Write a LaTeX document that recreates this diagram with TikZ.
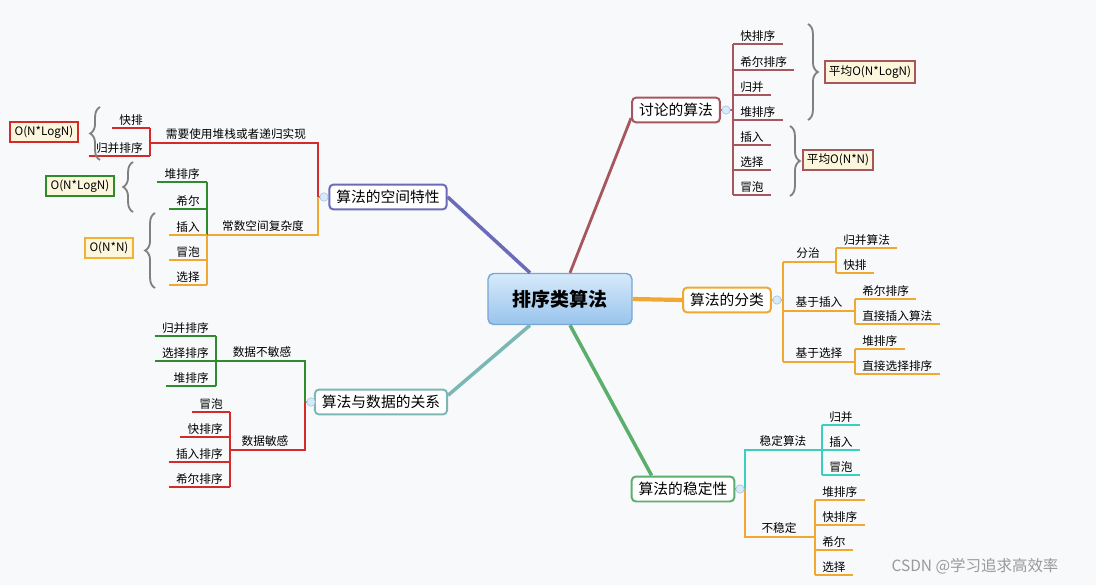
\documentclass[tikz,border=0pt]{standalone}
\usepackage{fontspec}
\setmainfont{Noto Sans CJK SC}
\usetikzlibrary{calc,positioning,decorations.pathreplacing}

\definecolor{bg}{HTML}{F8F9FB}
\definecolor{dred}{HTML}{A8565E}
\definecolor{org}{HTML}{F0A830}
\definecolor{grn}{HTML}{5BAE6B}
\definecolor{teal}{HTML}{7BB8B5}
\definecolor{purp}{HTML}{6B6BB8}
\definecolor{rd}{HTML}{D42A2A}
\definecolor{lgrn}{HTML}{2E8B2E}
\definecolor{yel}{HTML}{F2B233}
\definecolor{cyn}{HTML}{3CCFC0}
\definecolor{boxfill}{HTML}{FBF6DC}
\definecolor{roottop}{HTML}{D6EAFB}
\definecolor{rootbot}{HTML}{98C4EC}
\definecolor{rootline}{HTML}{7AA6D2}

\tikzset{
  topic/.style={draw=#1, line width=1.4pt, rounded corners=3pt, fill=white,
    inner xsep=5pt, inner ysep=4pt, font=\fontsize{10.5}{12}\selectfont},
  leaf/.style={inner xsep=5pt, inner ysep=1.5pt, font=\fontsize{8.3}{9}\selectfont},
  mid/.style={inner sep=2pt, anchor=south, font=\fontsize{8.3}{9}\selectfont},
  tag/.style={draw=#1, line width=1.4pt, fill=boxfill, inner sep=3pt,
    font=\fontsize{8.3}{9}\selectfont},
  br/.style={decorate, decoration={brace, amplitude=7pt}, draw=gray, line width=1.3pt},
  fold/.style={circle, draw=rootline!70, fill=roottop, inner sep=0pt, minimum size=6pt},
  stem/.style={line width=1.3pt},
}

\begin{document}
\begin{tikzpicture}[x=0.025cm, y=-0.025cm]
\useasboundingbox[fill=bg] (0,0) rectangle (1096,585);

% root and main topics
\node[draw=rootline, line width=1pt, rounded corners=4pt, top color=roottop, bottom color=rootbot,
  minimum width=144*0.025cm, minimum height=51*0.025cm,
  font=\fontsize{13.5}{15}\bfseries\selectfont] (root) at (560,299) {排序类算法};
\node[topic=dred] (dis) at (676,110) {讨论的算法};
\node[topic=org] (cls) at (727,300) {算法的分类};
\node[topic=grn] (stab) at (683,489) {算法的稳定性};
\node[topic=teal] (dat) at (381,402) {算法与数据的关系};
\node[topic=purp] (spa) at (388,197) {算法的空间特性};

\draw[dred, line width=2pt] (root.north) ++(10,0) -- ($(dis.west)!0.6!(dis.south west)$);
\draw[org, line width=3pt] (root.east) -- (cls.west);
\draw[grn, line width=2.5pt] (root.south) ++(10,0) -- ($(stab.north west)!0.2!(stab.north east)$);
\draw[teal, line width=2.5pt] (root.south) ++(-30,0) -- ($(dat.east)!0.5!(dat.north east)$);
\draw[purp, line width=2.5pt] (root.north) ++(-30,0) -- (spa.east);

% discussed algorithms
\coordinate (dt) at (733,110);
\draw[dred, stem] (dis.east) -- (dt);
\draw[dred, stem] (733,44) -- (733,195);
\foreach \n/\t/\y in {a/快排序/44, b/希尔排序/70, c/归并/95, d/堆排序/120, e/插入/145, f/选择/170, g/冒泡/195}{
  \node[leaf, anchor=south west] (d\n) at (733,\y) {\t};
  \draw[dred, stem] (d\n.south west) -- (d\n.south east);
}
\node[tag=dred] (avg1) at (870,72) {平均O(N*LogN)};
\node[tag=dred] (avg2) at (838,160) {平均O(N*N)};
\draw[br] (808,24) -- (808,120);
\draw[br] (790,126) -- (790,196);
\node[fold] at (726,110) {};

% classification
\coordinate (ct) at (783,300);
\draw[org, stem] (cls.east) -- (ct);
\draw[org, stem] (783,262) -- (783,362);
\node[mid] (fz) at (808,262) {分治};
\node[mid] (jc) at (819,311) {基于插入};
\node[mid] (jx) at (819,362) {基于选择};
\draw[org, stem] (783,262) -- (836,262);
\draw[org, stem] (783,311) -- (855,311);
\draw[org, stem] (783,362) -- (855,362);
\draw[org, stem] (836,248) -- (836,273);
\draw[org, stem] (855,299) -- (855,324);
\draw[org, stem] (855,349) -- (855,374);
\foreach \n/\t/\x/\y in {a/归并算法/836/248, b/快排/836/273, c/希尔排序/855/299,
    d/直接插入算法/855/324, e/堆排序/855/349, f/直接选择排序/855/374}{
  \node[leaf, anchor=south west] (c\n) at (\x,\y) {\t};
  \draw[org, stem] (c\n.south west) -- (c\n.south east);
}
\node[fold] at (777,300) {};

% stability
\draw[grn, stem] (stab.east) -- (745,489);
\draw[cyn, stem] (745,489) -- (745,450) -- (822,450);
\draw[org, stem] (745,489) -- (745,537) -- (815,537);
\node[mid] (wd) at (783,450) {稳定算法};
\node[mid] (bw) at (779,537) {不稳定};
\draw[cyn, stem] (822,425) -- (822,475);
\draw[org, stem] (815,500) -- (815,575);
\foreach \n/\t/\y in {a/归并/425, b/插入/450, c/冒泡/475}{
  \node[leaf, anchor=south west] (w\n) at (822,\y) {\t};
  \draw[cyn, stem] (w\n.south west) -- (w\n.south east);
}
\foreach \n/\t/\y in {a/堆排序/500, b/快排序/525, c/希尔/550, d/选择/575}{
  \node[leaf, anchor=south west] (u\n) at (815,\y) {\t};
  \draw[org, stem] (u\n.south west) -- (u\n.south east);
}
\node[fold] at (740,489) {};

% data relation
\draw[teal, stem] (dat.west) -- (305,402);
\draw[lgrn, stem] (305,402) -- (305,361) -- (216,361);
\draw[rd, stem] (305,402) -- (305,450) -- (230,450);
\node[mid] (bm) at (262,361) {数据不敏感};
\node[mid] (mg) at (265,450) {数据敏感};
\draw[lgrn, stem] (216,336) -- (216,386);
\draw[rd, stem] (230,412) -- (230,487);
\foreach \n/\t/\y in {a/归并排序/336, b/选择排序/361, c/堆排序/386}{
  \node[leaf, anchor=south east] (g\n) at (216,\y) {\t};
  \draw[lgrn, stem] (g\n.south west) -- (g\n.south east);
}
\foreach \n/\t/\y in {a/冒泡/412, b/快排序/437, c/插入排序/462, d/希尔排序/487}{
  \node[leaf, anchor=south east] (r\n) at (230,\y) {\t};
  \draw[rd, stem] (r\n.south west) -- (r\n.south east);
}
\node[fold] at (311,402) {};

% space property
\draw[purp, stem] (spa.west) -- (318,197);
\draw[rd, stem] (318,197) -- (318,143) -- (150,143);
\draw[org, stem] (318,197) -- (318,235) -- (207,235);
\node[mid] (dz) at (236,143) {需要使用堆栈或者递归实现};
\node[mid] (cs) at (263,235) {常数空间复杂度};
\draw[rd, stem] (150,128) -- (150,156);
\draw[lgrn, stem] (207,182) -- (207,235);
\draw[org, stem] (207,235) -- (207,285);
\foreach \n/\t/\y in {a/快排/128, b/归并排序/156}{
  \node[leaf, anchor=south east] (k\n) at (150,\y) {\t};
  \draw[rd, stem] (k\n.south west) -- (k\n.south east);
}
\foreach \n/\t/\y in {a/堆排序/182, b/希尔/209}{
  \node[leaf, anchor=south east] (h\n) at (207,\y) {\t};
  \draw[lgrn, stem] (h\n.south west) -- (h\n.south east);
}
\foreach \n/\t/\y in {a/插入/235, b/冒泡/260, c/选择/285}{
  \node[leaf, anchor=south east] (o\n) at (207,\y) {\t};
  \draw[org, stem] (o\n.south west) -- (o\n.south east);
}
\node[tag=rd] (on1) at (44,132) {O(N*LogN)};
\node[tag=lgrn] (on2) at (80,186) {O(N*LogN)};
\node[tag=yel] (on3) at (109,248) {O(N*N)};
\draw[br] (100,160) -- (100,107);
\draw[br] (133,212) -- (133,162);
\draw[br] (155,288) -- (155,213);
\node[fold] at (324,197) {};

\node[text=gray!80, font=\fontsize{11}{13}\selectfont] (mark) at (975,566) {CSDN @学习追求高效率};
\end{tikzpicture}
\end{document}
